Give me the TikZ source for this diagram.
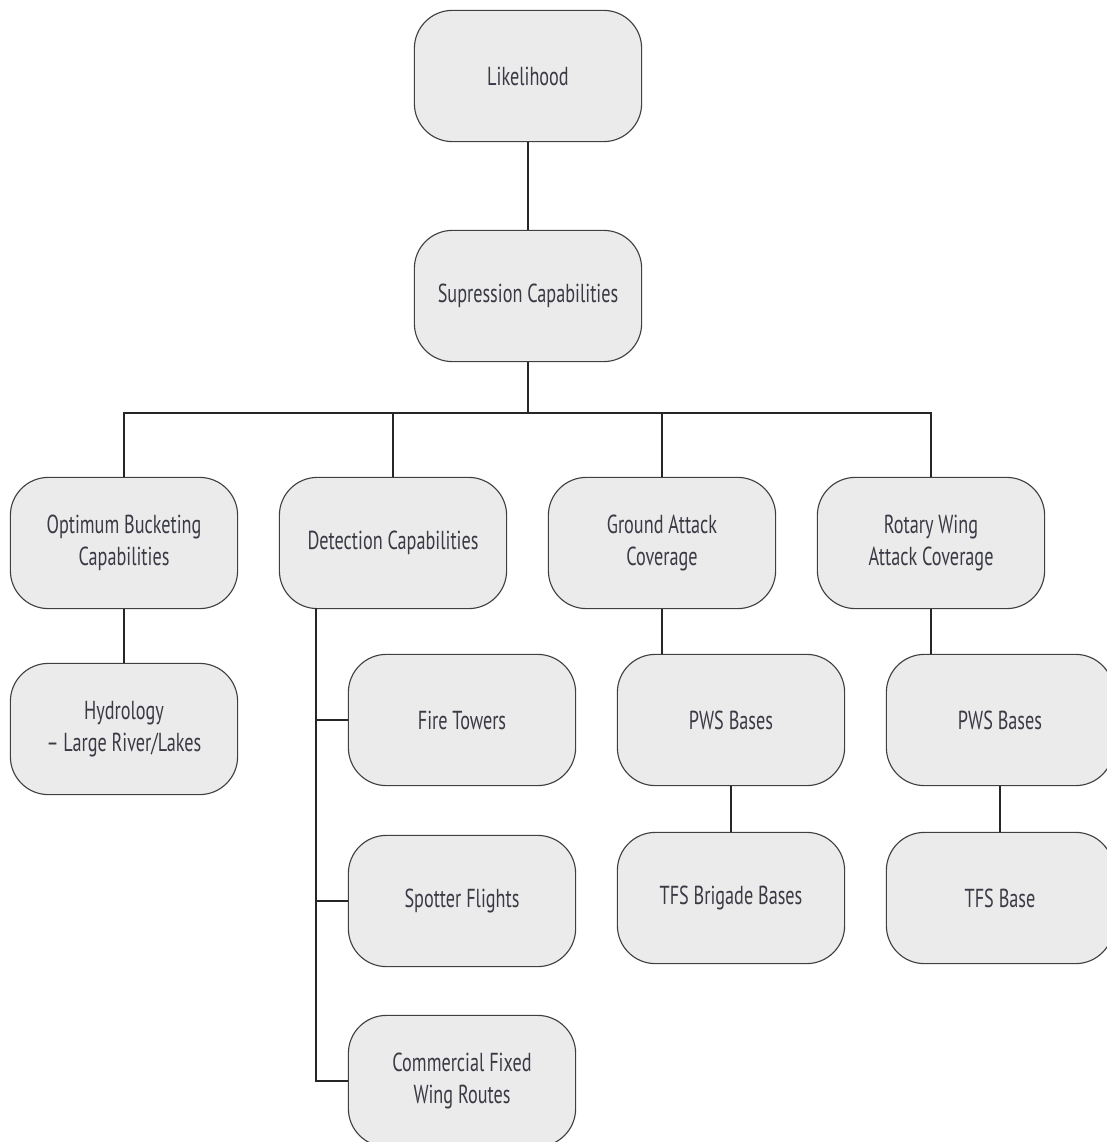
\documentclass[tikz,border=0pt]{standalone}
\usepackage{fontspec}
\setmainfont{PT Sans}
\newfontfamily\boxfont[FakeStretch=0.7,Ligatures=TeX]{PT Sans}
\usetikzlibrary{positioning}
\definecolor{boxgray}{HTML}{EBEBEB}
\definecolor{inkgray}{HTML}{3A3A45}
\tikzset{
  factor/.style={draw=black!75,line width=0.8pt,fill=boxgray,rounded corners=0.95cm,
    minimum width=5.68cm,minimum height=3.28cm,align=center,text=inkgray,
    font=\boxfont\fontsize{18.5}{22.7}\selectfont},
  link/.style={draw=black!85,line width=0.8pt}
}
\begin{document}
\begin{tikzpicture}[x=0.025cm,y=-0.025cm]
\useasboundingbox (0,0) rectangle (1106,1142);
\node[factor] (like) at (528,76) {Likelihood};
\node[factor] (sup) at (528,296) {Supression Capabilities};

\node[factor] (bucket) at (124,543) {Optimum Bucketing\\Capabilities};
\node[factor] (detect) at (393,543) {Detection Capabilities};
\node[factor] (ground) at (662,543) {Ground Attack\\Coverage};
\node[factor] (rotary) at (931,543) {Rotary Wing\\Attack Coverage};

\node[factor] (hydro) at (124,729) {Hydrology\\– Large River/Lakes};
\node[factor] (tower) at (462,720) {Fire Towers};
\node[factor] (spot) at (462,901) {Spotter Flights};
\node[factor] (fixed) at (462,1081) {Commercial Fixed\\Wing Routes};
\node[factor] (gpws) at (731,720) {PWS Bases};
\node[factor] (tfsb) at (731,898) {TFS Brigade Bases};
\node[factor] (rpws) at (1000,720) {PWS Bases};
\node[factor] (tfs) at (1000,898) {TFS Base};

\coordinate (bar) at (528,413);
\coordinate (trunk) at (316,608);

\draw[link] (like) -- (sup);
\draw[link] (sup) -- (bar);
\draw[link] (bar) -| (bucket.north);
\draw[link] (bar) -| (detect.north);
\draw[link] (bar) -| (ground.north);
\draw[link] (bar) -| (rotary.north);

\draw[link] (bucket) -- (hydro);
\draw[link] (trunk) |- (tower.west);
\draw[link] (trunk) |- (spot.west);
\draw[link] (trunk) |- (fixed.west);
\draw[link] (ground) -- (ground |- gpws.north);
\draw[link] (gpws) -- (tfsb);
\draw[link] (rotary) -- (rotary |- rpws.north);
\draw[link] (rpws) -- (tfs);

\end{tikzpicture}
\end{document}
